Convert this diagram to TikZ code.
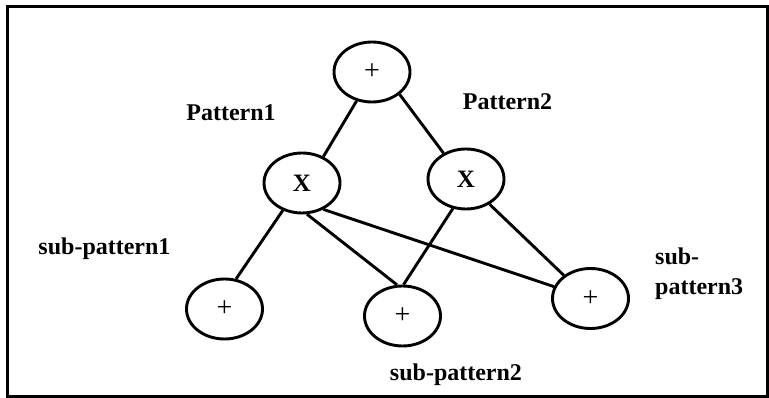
\documentclass[tikz,border=0pt]{standalone}
\usepackage{fontspec}
\setmainfont{Liberation Serif}
\usetikzlibrary{shapes.geometric}
\tikzset{
  opnode/.style={ellipse, draw, line width=2.9pt, minimum width=76pt, minimum height=60pt, inner sep=0pt},
  conn/.style={line width=2.9pt},
  lbl/.style={font=\fontsize{24}{30}\selectfont\bfseries, inner sep=0pt},
  plus/.style={font=\fontsize{28}{30}\selectfont},
  times/.style={font=\fontsize{25}{28}\selectfont\bfseries}
}
\begin{document}
\begin{tikzpicture}[x=1pt,y=-1pt]
\useasboundingbox (0,0) rectangle (769,398);
\draw[line width=3pt] (7,7) rectangle (767.5,396.7);

\node[opnode, plus]  (top) at (372,72)    {+};
\node[opnode, times] (lx)  at (302,183)   {X};
\node[opnode, times] (rx)  at (466,179)   {X};
\node[opnode, plus]  (bl)  at (224.5,309) {+};
\node[opnode, plus]  (bm)  at (402.5,316) {+};
\node[opnode, plus]  (br)  at (590.5,298.5) {+};

\draw[conn] (top.-118.5) -- (lx.51.7);
\draw[conn] (top.-39.4) -- (rx.131.7);
\draw[conn] (lx.-125.3) -- (bl.69.3);
\draw[conn] (lx.-81.2) -- (bm.100.8);
\draw[conn] (lx.-51.7) -- (br.162.4);
\draw[conn] (rx.-114.8) -- (bm.88.5);
\draw[conn] (rx.-47.3) -- (br.139.5);

\node[lbl, anchor=base] (p1) at (231,121) {Pattern1};
\node[lbl, anchor=base] (p2) at (507.5,110) {Pattern2};
\node[lbl, anchor=base] (s1) at (104.5,254.7) {sub-pattern1};
\node[lbl, anchor=base] (s2) at (456,380.7) {sub-pattern2};
\node[lbl, anchor=north west, align=left] (s3) at (655,247.5) {sub-\\pattern3};
\end{tikzpicture}
\end{document}
